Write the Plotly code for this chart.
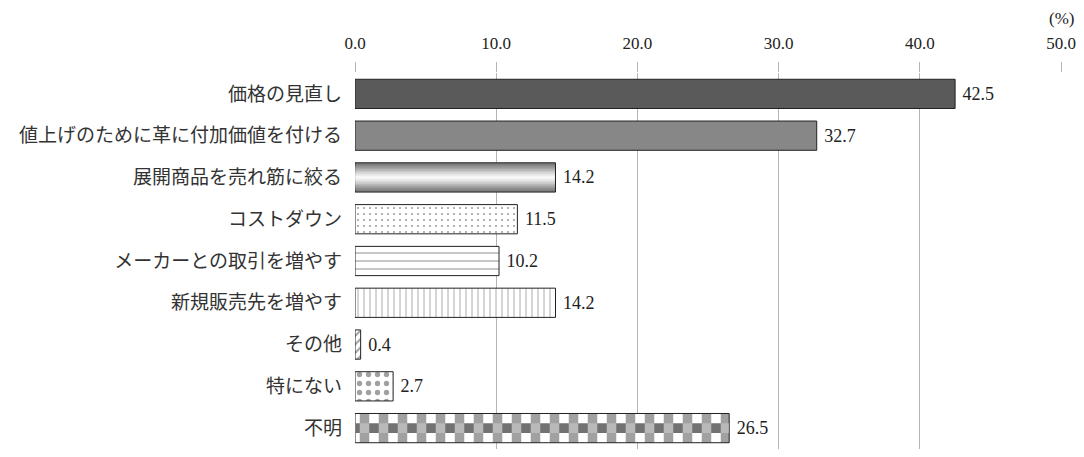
import plotly.graph_objects as go

categories = ["価格の見直し", "値上げのために革に付加価値を付ける", "展開商品を売れ筋に絞る",
              "コストダウン", "メーカーとの取引を増やす", "新規販売先を増やす",
              "その他", "特にない", "不明"]
values = [42.5, 32.7, 14.2, 11.5, 10.2, 14.2, 0.4, 2.7, 26.5]
value_labels = ["42.5", "32.7", "14.2", "11.5", "10.2", "14.2", "0.4", "2.7", "26.5"]
tick_vals = [0, 10, 20, 30, 40, 50]
tick_text = ["0.0", "10.0", "20.0", "30.0", "40.0", "50.0"]

bg_colors = ["#5a5a5a", "#878787", "#7a7a7a", "white", "white", "white", "white", "white", "white"]
pat_shapes = ["", "", "", ".", "-", "|", "/", ".", "|"]
pat_fg = ["#000", "#000", "#000", "#000000", "#111111", "#111111", "#333333", "#6a6a6a", "#727272"]
pat_size = [8, 8, 8, 6, 8, 6, 6, 9, 19]
pat_solid = [0.3, 0.3, 0.3, 0.11, 0.15, 0.15, 0.35, 0.28, 0.5]

BAR_W = 0.70
FONT = "Liberation Serif, Noto Sans CJK JP, serif"

# page has an 8px body margin; figure sized to fit inside the 1084x457 window
FIG_W, FIG_H = 1068, 441
M_L, M_R, M_T, M_B = 347, 15, 65, 0

fig = go.Figure()

fig.add_trace(go.Bar(
    y=categories, x=values, orientation="h", width=BAR_W,
    marker=dict(color=bg_colors, line=dict(color="#222222", width=1),
                pattern=dict(shape=pat_shapes, fgcolor=pat_fg, bgcolor=bg_colors,
                             size=pat_size, solidity=pat_solid, fillmode="overlay")),
    text=["\u00a0" + t for t in value_labels], textposition="outside", cliponaxis=False,
    textfont=dict(family=FONT, size=18, color="#222222"),
    hoverinfo="skip", showlegend=False,
))

# gradient layers for the third bar (dark edges, light centre)
grad_cat = [categories[2]]
grad_val = [values[2]]
grad_colors = ["#858585", "#959595", "#a6a6a6", "#b8b8b8", "#cacaca", "#dbdbdb", "#e9e9e9", "#f6f6f6"]
n = len(grad_colors)
for k, c in enumerate(grad_colors):
    w = (BAR_W - 0.08) * (1 - k / n)
    fig.add_trace(go.Bar(
        y=grad_cat, x=[grad_val[0] - 0.08], base=[0.04], orientation="h", width=w,
        marker=dict(color=c, line=dict(width=0)),
        hoverinfo="skip", showlegend=False,
    ))

# checkerboard for the last bar: middle row with inverted stripes
fig.add_trace(go.Bar(
    y=[categories[8]], x=[values[8] - 0.06], base=[0.03], orientation="h", width=BAR_W / 3,
    marker=dict(color="#727272", line=dict(width=0),
                pattern=dict(shape="|", fgcolor="white", bgcolor="#727272",
                             size=19, solidity=0.5, fillmode="overlay")),
    hoverinfo="skip", showlegend=False,
))

fig.update_layout(
    width=FIG_W, height=FIG_H,
    margin=dict(l=M_L, r=M_R, t=M_T, b=M_B, pad=0, autoexpand=False),
    paper_bgcolor="white", plot_bgcolor="white",
    barmode="overlay",
    font=dict(family=FONT, color="#222222"),
    xaxis=dict(side="top", range=[0, 50], tickvals=tick_vals, ticktext=tick_text,
               showgrid=True, gridcolor="#b4b4b4", gridwidth=1,
               zeroline=False, showline=False, automargin=False,
               ticks="outside", ticklen=10, tickcolor="#b4b4b4",
               ticklabelstandoff=6, ticklabeloverflow="allow",
               tickfont=dict(family=FONT, size=17, color="#222222")),
    yaxis=dict(categoryorder="array", categoryarray=categories, autorange="reversed",
               showgrid=False, zeroline=False, showline=False, ticks="",
               automargin=False, ticklabelstandoff=12,
               tickfont=dict(family="Noto Sans CJK JP", size=19, color="#333333")),
    annotations=[dict(text="(%)", x=1.0, xref="paper",
                      y=1 + (M_T - 10) / (FIG_H - M_T - M_B), yref="paper",
                      yanchor="middle", xanchor="center", showarrow=False,
                      font=dict(family=FONT, size=17, color="#222222"))],
)

fig.write_html("out.html")
